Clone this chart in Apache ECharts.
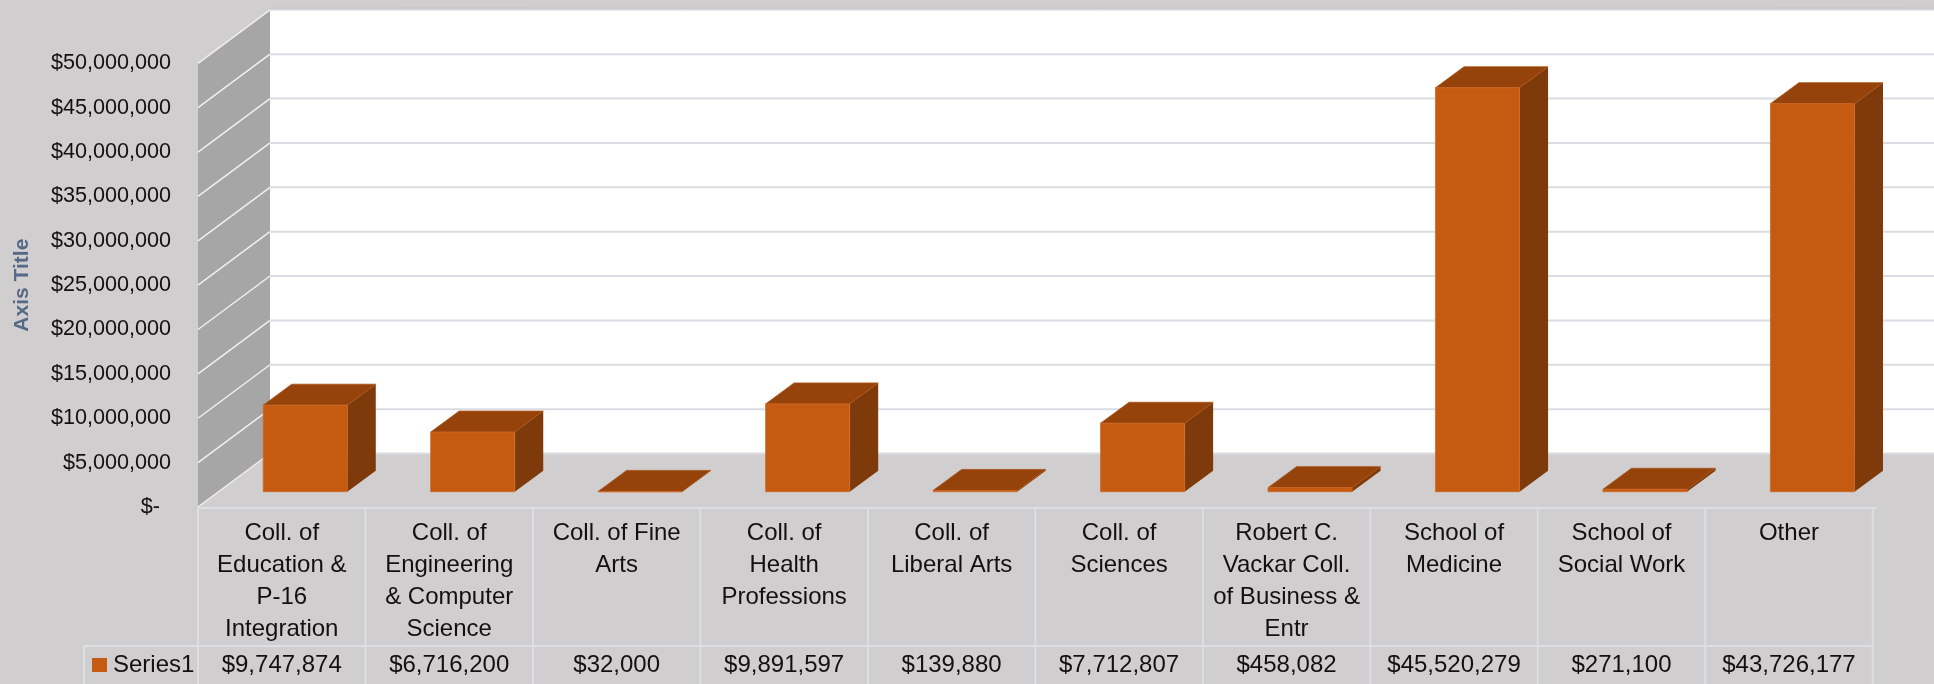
<!DOCTYPE html>
<html>
<head>
<meta charset="utf-8">
<script src="https://cdn.jsdelivr.net/npm/echarts/dist/echarts.min.js"></script>
<style>
html,body{margin:0;padding:0;background:#d0cece;}
#c{width:1934px;height:684px;}
</style>
</head>
<body>
<div id="c"></div>
<script>
// ---------- data ----------
const categories = [
  'Coll. of\nEducation &\nP-16\nIntegration',
  'Coll. of\nEngineering\n& Computer\nScience',
  'Coll. of Fine\nArts',
  'Coll. of\nHealth\nProfessions',
  'Coll. of\nLiberal Arts',
  'Coll. of\nSciences',
  'Robert C.\nVackar Coll.\nof Business &\nEntr',
  'School of\nMedicine',
  'School of\nSocial Work',
  'Other'
];
const values = [9747874, 6716200, 32000, 9891597, 139880, 7712807, 458082, 45520279, 271100, 43726177];
const seriesName = 'Series1';
const yTickValues = [0, 5000000, 10000000, 15000000, 20000000, 25000000, 30000000, 35000000, 40000000, 45000000, 50000000];
const yMin = 0, yMax = 50000000, yStep = 5000000;

function money(v) { return '$' + v.toLocaleString('en-US'); }
const valueLabels = values.map(money);

// ---------- styling / geometry ----------
const FONT = 'Liberation Sans';
const WALL_DX = 72, WALL_DY = 53.5;
const BAR_FX = 23.5, BAR_FY = 15.3, BAR_DX = 28.5, BAR_DY = 21, BAR_RATIO = 0.502;
const ROW_SEP = 139;      // distance from floor front edge to table row separator
const LEGEND_CELL_LEFT = 84;
const BOTTOM = 684;

const chart = echarts.init(document.getElementById('c'));

function renderFrame(params, api) {
  const cs = params.coordSys;
  const gx = cs.x, gr = cs.x + cs.width;
  const y0 = api.coord([0, yMin])[1];
  const yT = api.coord([0, yMax])[1];
  const far = gr + WALL_DX + 40;
  const ch = [];
  // back wall
  ch.push({type: 'rect', shape: {x: gx + WALL_DX, y: yT - WALL_DY, width: far - gx - WALL_DX, height: y0 - yT},
           style: {fill: '#ffffff'}});
  // top edge of back wall
  ch.push({type: 'line', shape: {x1: gx + WALL_DX, y1: yT - WALL_DY - 1.5, x2: far, y2: yT - WALL_DY - 1.5},
           style: {stroke: '#bdbdbd', lineWidth: 1}});
  // floor
  ch.push({type: 'polygon', shape: {points: [[gx, y0], [gr + 4, y0], [gr + 4 + WALL_DX, y0 - WALL_DY], [gx + WALL_DX, y0 - WALL_DY]]},
           style: {fill: '#d0cece'}});
  // left wall
  ch.push({type: 'polygon', shape: {points: [[gx, yT], [gx + WALL_DX, yT - WALL_DY], [gx + WALL_DX, y0 - WALL_DY], [gx, y0]]},
           style: {fill: '#a6a6a6'}});
  // gridlines
  yTickValues.forEach(function (v) {
    const y = api.coord([0, v])[1];
    ch.push({type: 'line', shape: {x1: gx + WALL_DX, y1: y - WALL_DY, x2: far, y2: y - WALL_DY},
             style: {stroke: '#d9dce2', lineWidth: 2}});
    ch.push({type: 'line', shape: {x1: gx, y1: y, x2: gx + WALL_DX, y2: y - WALL_DY},
             style: {stroke: '#f0f0f0', lineWidth: 1.5}});
  });
  // data table borders
  const n = categories.length;
  const band = cs.width / n;
  const lineStyle = {stroke: '#dcdfe4', lineWidth: 2};
  ch.push({type: 'line', shape: {x1: gx, y1: y0 + 1, x2: gr + 4, y2: y0 + 1}, style: lineStyle});
  ch.push({type: 'line', shape: {x1: LEGEND_CELL_LEFT, y1: y0 + ROW_SEP, x2: gr, y2: y0 + ROW_SEP}, style: lineStyle});
  ch.push({type: 'line', shape: {x1: LEGEND_CELL_LEFT, y1: y0 + ROW_SEP, x2: LEGEND_CELL_LEFT, y2: BOTTOM}, style: lineStyle});
  for (let i = 0; i <= n; i++) {
    const x = api.coord([Math.min(i, n - 1), 0])[0] + (i === n ? band / 2 : -band / 2);
    ch.push({type: 'line', shape: {x1: x, y1: y0 + 1, x2: x, y2: BOTTOM}, style: lineStyle});
  }
  return {type: 'group', children: ch};
}

function renderBar(params, api) {
  const i = api.value(0), v = api.value(1);
  const top = api.coord([i, v]);
  const base = api.coord([i, 0]);
  const band = api.size([1, 0])[0];
  const w = band * BAR_RATIO;
  const x0 = top[0] + BAR_FX - w / 2, x1 = x0 + w;
  const yt = top[1] - BAR_FY, yb = base[1] - BAR_FY;
  return {
    type: 'group',
    children: [
      {type: 'polygon', shape: {points: [[x1, yt], [x1, yb], [x1 + BAR_DX, yb - BAR_DY], [x1 + BAR_DX, yt - BAR_DY]]},
       style: {fill: '#7e3a0a'}},
      {type: 'polygon', shape: {points: [[x0, yt], [x1, yt], [x1 + BAR_DX, yt - BAR_DY], [x0 + BAR_DX, yt - BAR_DY]]},
       style: {fill: '#96430b', stroke: '#a85315', lineWidth: 0.8}},
      {type: 'rect', shape: {x: x0, y: yt, width: w, height: Math.max(yb - yt, 0.5)},
       style: {fill: '#c55a11', stroke: '#d06a26', lineWidth: 0.8}}
    ]
  };
}

const option = {
  animation: false,
  backgroundColor: '#d0cece',
  color: ['#c55a11'],
  textStyle: {fontFamily: FONT},
  grid: {left: 198, right: 61.3, top: 63.3, height: 443.7, containLabel: false, outerBoundsMode: 'none'},
  legend: {
    data: [seriesName], left: 92, top: 651, padding: 0, icon: 'rect',
    itemWidth: 15, itemHeight: 14, selectedMode: false,
    textStyle: {fontFamily: FONT, fontSize: 24, color: '#111', lineHeight: 28, padding: [0, 0, 0, 1]}
  },
  xAxis: [
    {
      type: 'category', data: categories, position: 'bottom',
      axisLine: {show: false}, axisTick: {show: false}, splitLine: {show: false},
      axisLabel: {interval: 0, fontFamily: FONT, fontSize: 24, lineHeight: 32, margin: 10, color: '#111'}
    },
    {
      type: 'category', data: valueLabels, position: 'bottom', offset: 130,
      axisLine: {show: false}, axisTick: {show: false}, splitLine: {show: false},
      axisLabel: {interval: 0, fontFamily: FONT, fontSize: 24, lineHeight: 32, margin: 12, color: '#111'}
    }
  ],
  yAxis: {
    type: 'value', min: yMin, max: yMax, interval: yStep,
    axisLine: {show: false}, axisTick: {show: false}, splitLine: {show: false},
    axisLabel: {
      margin: 27, fontFamily: FONT, fontSize: 21.6, color: '#111',
      formatter: function (v) { return v === 0 ? '{z|$-}' : money(v); },
      rich: {z: {fontFamily: FONT, fontSize: 21.6, color: '#111', padding: [0, 11, 0, 0]}}
    },
    name: 'Axis Title', nameLocation: 'middle', nameRotate: 90, nameGap: 165,
    nameTextStyle: {fontFamily: FONT, fontSize: 21, fontWeight: 'bold', color: '#566985'}
  },
  series: [
    {
      type: 'custom', name: 'frame', silent: true, z: 1, clip: false,
      renderItem: renderFrame, data: [[0, 0]], encode: {x: 0, y: 1}, tooltip: {show: false}
    },
    {
      type: 'custom', name: seriesName, z: 3, clip: false,
      itemStyle: {color: '#c55a11'},
      renderItem: renderBar, encode: {x: 0, y: 1},
      data: values.map(function (v, i) { return [i, v]; })
    }
  ]
};
chart.setOption(option);
</script>
</body>
</html>
